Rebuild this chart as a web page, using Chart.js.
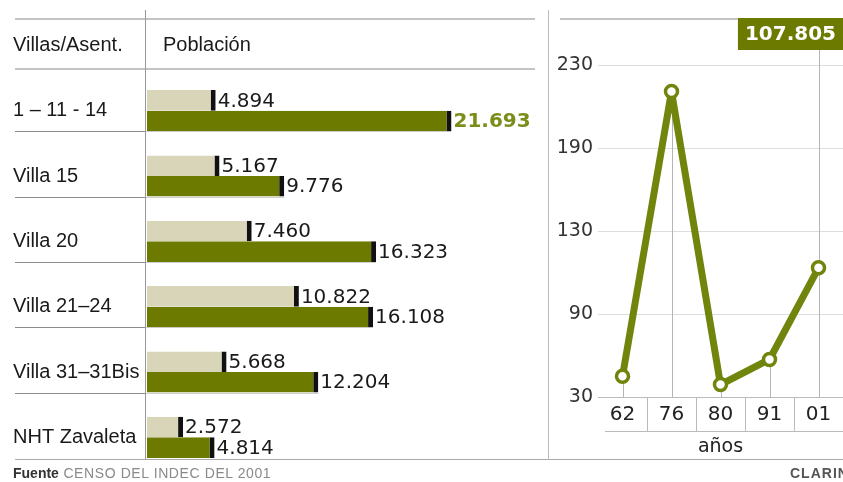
<!DOCTYPE html>
<html lang="es">
<head>
<meta charset="utf-8">
<title>Villas de la Ciudad</title>
<script src="https://cdn.jsdelivr.net/npm/chart.js@4.4.1/dist/chart.umd.min.js"></script>
<style>
	html, body { margin: 0; padding: 0; background: #fff; }
	body { width: 843px; height: 482px; position: relative; overflow: hidden; font-family: "Liberation Sans", Arial, sans-serif; }
	#barras { position: absolute; left: 0; top: 0; }
	#linea { position: absolute; left: 548px; top: 0; }
	#base { position: absolute; left: 15px; top: 459px; width: 828px; border-top: 1px solid #aaa; }
	#fuente { position: absolute; left: 13px; top: 465px; font-size: 14px; color: #8a8a8a; letter-spacing: 0.6px; white-space: nowrap; }
	#fuente b { color: #333; letter-spacing: 0; }
	#firma { position: absolute; left: 790px; top: 465px; font-size: 14px; font-weight: bold; color: #555; letter-spacing: 1px; white-space: nowrap; }
</style>
</head>
<body>
<canvas id="barras" width="548" height="482"></canvas>
<canvas id="linea" width="295" height="482"></canvas>
<div id="base"></div>
<div id="fuente"><b>Fuente</b> CENSO DEL INDEC DEL 2001</div>
<div id="firma">CLARIN</div>
<script>
// poblacion por villa, en miles de habitantes
const villas = ['1 – 11 - 14', 'Villa 15', 'Villa 20', 'Villa 21–24', 'Villa 31–31Bis', 'NHT Zavaleta'];
const censo1980 = [4.894, 5.167, 7.460, 10.822, 5.668, 2.572];
const censo2001 = [21.693, 9.776, 16.323, 16.108, 12.204, 4.814];

// total de poblacion en villas por censo, en miles
const anios = ['62', '76', '80', '91', '01'];
const totalVillas = [42.5, 214, 37.5, 52.6, 107.805];
const yTickLabels = ['30', '90', '130', '190', '230'];

const claro = '#d8d5b8';
const oliva = '#6c7a00';
const olivaLinea = '#6f850b';
const olivaTexto = '#7b8e1a';

const tablaPlugin = {
	id: 'tabla',
	beforeDatasetsDraw(chart) {
		const ctx = chart.ctx;
		const area = chart.chartArea;
		const oscuras = chart.getDatasetMeta(1).data;
		const colX = area.left - 2;
		ctx.save();
		// encabezado
		ctx.strokeStyle = '#c4c4c4';
		ctx.lineWidth = 2;
		[19, 69].forEach(y => {
			ctx.beginPath();
			ctx.moveTo(15, y);
			ctx.lineTo(535, y);
			ctx.stroke();
		});
		// separadores de filas
		ctx.lineWidth = 1;
		oscuras.forEach((bar, i) => {
			if (i === oscuras.length - 1) return;
			const y = Math.round(bar.y + bar.height / 2) + 0.5;
			ctx.strokeStyle = '#8c8c8c';
			ctx.beginPath();
			ctx.moveTo(15, y);
			ctx.lineTo(colX, y);
			ctx.stroke();
			ctx.strokeStyle = '#d0d0d0';
			ctx.beginPath();
			ctx.moveTo(colX, y);
			ctx.lineTo(bar.x, y);
			ctx.stroke();
		});
		// columna
		ctx.strokeStyle = '#999';
		ctx.beginPath();
		ctx.moveTo(colX + 0.5, 10);
		ctx.lineTo(colX + 0.5, 460);
		ctx.stroke();
		ctx.restore();
	},
	afterDatasetsDraw(chart) {
		const ctx = chart.ctx;
		const area = chart.chartArea;
		const maximo = Math.max(...censo2001);
		ctx.save();
		ctx.textBaseline = 'middle';
		ctx.textAlign = 'left';
		chart.data.datasets.forEach((ds, di) => {
			chart.getDatasetMeta(di).data.forEach((bar, i) => {
				const v = ds.data[i];
				const destacado = di === 1 && v === maximo;
				ctx.font = (destacado ? 'bold ' : '') + '20px "DejaVu Sans"';
				ctx.fillStyle = destacado ? olivaTexto : '#1a1a1a';
				ctx.fillText(v.toFixed(3), bar.x + 2, bar.y + 1);
			});
		});
		// titulos de la tabla
		ctx.font = '20px "Liberation Sans"';
		ctx.fillStyle = '#1a1a1a';
		ctx.fillText('Villas/Asent.', 13, 45);
		ctx.fillText('Población', area.left + 16, 45);
		ctx.restore();
	}
};

new Chart(document.getElementById('barras'), {
	type: 'bar',
	data: {
		labels: villas,
		datasets: [
		{
			label: '1980',
			data: censo1980,
			backgroundColor: claro,
			borderColor: '#111',
			borderWidth: { top: 0, right: 5, bottom: 0, left: 0 },
			borderSkipped: false
		}, {
			label: '2001',
			data: censo2001,
			backgroundColor: oliva,
			borderColor: '#111',
			borderWidth: { top: 0, right: 5, bottom: 0, left: 0 },
			borderSkipped: false
		}]
	},
	options: {
		indexAxis: 'y',
		responsive: false,
		animation: false,
		categoryPercentage: 0.63,
		barPercentage: 1.0,
		layout: { padding: { left: 13, top: 78, bottom: 12, right: 8 } },
		plugins: { legend: { display: false }, tooltip: { enabled: false } },
		scales: {
			x: { display: false, min: 0, max: 28 },
			y: {
				grid: { display: false },
				border: { display: false },
				ticks: {
					crossAlign: 'far',
					padding: 0,
					color: '#1a1a1a',
					font: { family: '"Liberation Sans"', size: 20 }
				},
				afterFit(scale) { scale.width = 134; }
			}
		}
	},
	plugins: [tablaPlugin]
});

const seriePlugin = {
	id: 'serie',
	beforeDatasetsDraw(chart) {
		const ctx = chart.ctx;
		const area = chart.chartArea;
		const puntos = chart.getDatasetMeta(0).data;
		ctx.save();
		// marco del panel
		ctx.strokeStyle = '#bbb';
		ctx.lineWidth = 1;
		ctx.beginPath();
		ctx.moveTo(0.5, 10);
		ctx.lineTo(0.5, 460);
		ctx.stroke();
		// caja de los años
		const baseY = area.bottom + 34.5;
		ctx.beginPath();
		ctx.moveTo(area.left + 7, baseY);
		ctx.lineTo(area.right, baseY);
		ctx.stroke();
		// lineas de referencia de cada punto
		ctx.strokeStyle = '#b5b5b5';
		puntos.forEach((p, i) => {
			const x = Math.round(p.x) + 0.5;
			const desde = i === puntos.length - 1 ? 50 : p.y;
			ctx.beginPath();
			ctx.moveTo(x, desde);
			ctx.lineTo(x, area.bottom);
			ctx.stroke();
		});
		ctx.restore();
	},
	afterDraw(chart) {
		const ctx = chart.ctx;
		const area = chart.chartArea;
		const ultimo = totalVillas[totalVillas.length - 1];
		const texto = ultimo.toFixed(3);
		ctx.save();
		ctx.font = 'bold 20px "DejaVu Sans"';
		const ancho = ctx.measureText(texto).width + 14;
		const derecha = area.right;
		const izquierda = derecha - ancho;
		ctx.fillStyle = oliva;
		ctx.fillRect(izquierda, 18, ancho, 32);
		ctx.fillStyle = '#fff';
		ctx.textAlign = 'center';
		ctx.textBaseline = 'middle';
		ctx.fillText(texto, izquierda + ancho / 2, 35);
		// continuacion del borde superior
		ctx.strokeStyle = '#c4c4c4';
		ctx.lineWidth = 2;
		ctx.beginPath();
		ctx.moveTo(12, 19);
		ctx.lineTo(izquierda, 19);
		ctx.stroke();
		ctx.restore();
	}
};

new Chart(document.getElementById('linea'), {
	type: 'line',
	data: {
		labels: anios,
		datasets: [
		{
			label: 'Villas',
			data: totalVillas,
			borderColor: olivaLinea,
			borderWidth: 7,
			borderJoinStyle: 'round',
			pointRadius: 6,
			pointBorderWidth: 3.5,
			pointBackgroundColor: '#fff',
			pointBorderColor: olivaLinea,
			tension: 0
		}]
	},
	options: {
		responsive: false,
		animation: false,
		layout: { autoPadding: false, padding: { top: 65, left: 0, right: 0, bottom: 0 } },
		plugins: { legend: { display: false }, tooltip: { enabled: false } },
		scales: {
			x: {
				offset: true,
				grid: {
					offset: true,
					drawOnChartArea: false,
					tickLength: 34,
					color: ctx => (ctx.index === undefined || ctx.index === 0) ? 'rgba(0,0,0,0)' : '#bbb'
				},
				border: { display: true, color: '#bbb' },
				ticks: {
					padding: -28,
					color: '#222',
					font: { family: '"DejaVu Sans"', size: 20 }
				},
				title: {
					display: true,
					text: 'años',
					color: '#222',
					font: { family: '"DejaVu Sans"', size: 19 },
					padding: { top: 0, bottom: 24 }
				},
				afterFit(scale) { scale.height = 85; }
			},
			y: {
				min: 30,
				max: 230,
				grid: { color: '#ddd', drawTicks: false },
				border: { display: false },
				ticks: {
					stepSize: 50,
					padding: 5,
					color: '#333',
					font: { family: '"DejaVu Sans"', size: 19 },
					callback: (value, index) => yTickLabels[index]
				},
				afterFit(scale) { scale.width = 50; }
			}
		}
	},
	plugins: [seriePlugin]
});
</script>
</body>
</html>
